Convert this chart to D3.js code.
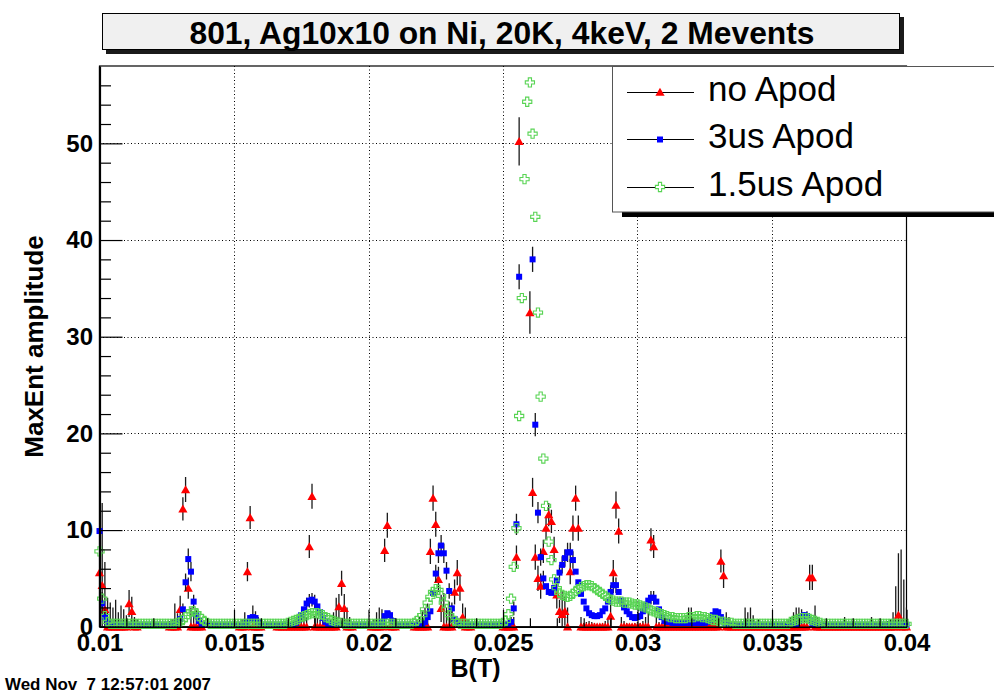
<!DOCTYPE html>
<html>
<head>
<meta charset="utf-8">
<script src="https://cdn.jsdelivr.net/npm/d3@7"></script>
<style>
  html, body { margin: 0; padding: 0; background: #fff; }
  svg { display: block; }
  text { font-family: "Liberation Sans", Arial, Helvetica, sans-serif; }
</style>
</head>
<body>
<svg id="chart" width="994" height="695"></svg>
<script>
// ---- data ---------------------------------------------------------------
const titleText = "801, Ag10x10 on Ni, 20K, 4keV, 2 Mevents";
const xTitle = "B(T)";
const yTitle = "MaxEnt amplitude";
const stampText = "Wed Nov  7 12:57:01 2007";
const seriesNames = ["no Apod", "3us Apod", "1.5us Apod"];

const xDomain = [0.01, 0.04];
const yDomain = [0, 58];
const xTicks = [0.01, 0.015, 0.02, 0.025, 0.03, 0.035, 0.04];
const xTickLabels = ["0.01", "0.015", "0.02", "0.025", "0.03", "0.035", "0.04"];
const xMinor = [0.011, 0.012, 0.013, 0.014, 0.016, 0.017, 0.018, 0.019,
                0.021, 0.022, 0.023, 0.024, 0.026, 0.027, 0.028, 0.029,
                0.031, 0.032, 0.033, 0.034, 0.036, 0.037, 0.038, 0.039];
const yTicks = [0, 10, 20, 30, 40, 50];
const yMinor = [2, 4, 6, 8, 12, 14, 16, 18, 22, 24, 26, 28, 32, 34, 36, 38,
                42, 44, 46, 48, 52, 54, 56];

// field bin centres (T)
const field = [
  0.0100,0.0101,0.0102,0.0103,0.0104,0.0105,0.0106,0.0107,0.0108,0.0109,
  0.0110,0.0111,0.0112,0.0113,0.0114,0.0115,0.0116,0.0117,0.0118,0.0119,
  0.0120,0.0121,0.0122,0.0123,0.0124,0.0125,0.0126,0.0127,0.0128,0.0129,
  0.0130,0.0131,0.0132,0.0133,0.0134,0.0135,0.0136,0.0137,0.0138,0.0139,
  0.0140,0.0141,0.0142,0.0143,0.0144,0.0145,0.0146,0.0147,0.0148,0.0149,
  0.0150,0.0151,0.0152,0.0153,0.0154,0.0155,0.0156,0.0157,0.0158,0.0159,
  0.0160,0.0161,0.0162,0.0163,0.0164,0.0165,0.0166,0.0167,0.0168,0.0169,
  0.0170,0.0171,0.0172,0.0173,0.0174,0.0175,0.0176,0.0177,0.0178,0.0179,
  0.0180,0.0181,0.0182,0.0183,0.0184,0.0185,0.0186,0.0187,0.0188,0.0189,
  0.0190,0.0191,0.0192,0.0193,0.0194,0.0195,0.0196,0.0197,0.0198,0.0199,
  0.0200,0.0201,0.0202,0.0203,0.0204,0.0205,0.0206,0.0207,0.0208,0.0209,
  0.0210,0.0211,0.0212,0.0213,0.0214,0.0215,0.0216,0.0217,0.0218,0.0219,
  0.0220,0.0221,0.0222,0.0223,0.0224,0.0225,0.0226,0.0227,0.0228,0.0229,
  0.0230,0.0231,0.0232,0.0233,0.0234,0.0235,0.0236,0.0237,0.0238,0.0239,
  0.0240,0.0241,0.0242,0.0243,0.0244,0.0245,0.0246,0.0247,0.0248,0.0249,
  0.0250,0.0251,0.0252,0.0253,0.0254,0.0255,0.0256,0.0257,0.0258,0.0259,
  0.0260,0.0261,0.0262,0.0263,0.0264,0.0265,0.0266,0.0267,0.0268,0.0269,
  0.0270,0.0271,0.0272,0.0273,0.0274,0.0275,0.0276,0.0277,0.0278,0.0279,
  0.0280,0.0281,0.0282,0.0283,0.0284,0.0285,0.0286,0.0287,0.0288,0.0289,
  0.0290,0.0291,0.0292,0.0293,0.0294,0.0295,0.0296,0.0297,0.0298,0.0299,
  0.0300,0.0301,0.0302,0.0303,0.0304,0.0305,0.0306,0.0307,0.0308,0.0309,
  0.0310,0.0311,0.0312,0.0313,0.0314,0.0315,0.0316,0.0317,0.0318,0.0319,
  0.0320,0.0321,0.0322,0.0323,0.0324,0.0325,0.0326,0.0327,0.0328,0.0329,
  0.0330,0.0331,0.0332,0.0333,0.0334,0.0335,0.0336,0.0337,0.0338,0.0339,
  0.0340,0.0341,0.0342,0.0343,0.0344,0.0345,0.0346,0.0347,0.0348,0.0349,
  0.0350,0.0351,0.0352,0.0353,0.0354,0.0355,0.0356,0.0357,0.0358,0.0359,
  0.0360,0.0361,0.0362,0.0363,0.0364,0.0365,0.0366,0.0367,0.0368,0.0369,
  0.0370,0.0371,0.0372,0.0373,0.0374,0.0375,0.0376,0.0377,0.0378,0.0379,
  0.0380,0.0381,0.0382,0.0383,0.0384,0.0385,0.0386,0.0387,0.0388,0.0389,
  0.0390,0.0391,0.0392,0.0393,0.0394,0.0395,0.0396,0.0397,0.0398,0.0399,
  0.0400
];

// "no Apod" amplitude per bin (null = empty bin, not drawn)
const noApod = [
  5.6, 4.3, 1.8, 0, 0, 0, 0, 0, 0, 0,
  0, 2.4, 1.6, 0, 0, null, null, null, null, null,
  null, null, null, null, null, null, 0, 0, 0, 0,
  1.8, 12.2, 14.2, 4.0, 0, 0, 0, 0, 0, null,
  null, null, null, null, null, null, null, null, null, null,
  null, null, 0, 0, 0, 5.7, 11.3, 0, 0, 0,
  0, null, null, null, null, null, 0, 0, 0, 0,
  0, 0, 0, 0, 0, 0, 0, 0, 8.3, 13.5,
  0, 0, 0, 0, 0, 0, 0, 0, 0, 2.1,
  4.5, 1.9, 0, 0, 0, null, null, null, null, null,
  null, 0, 0, 0, 0, 0, 7.9, 10.5, 0, 0,
  0, null, null, null, null, null, null, 0, 0, 0,
  0, 0, 0, 7.8, 13.3, 10.6, 4.9, 1.9, 0, 0,
  0, 0, 3.6, 5.6, 4.0, 1.0, 0, 0, 0, null,
  null, null, null, null, null, null, null, null, null, null,
  0, 0, 0, 0, 0, 7.2, 50.2, 68.0, 88.0, 71.0,
  32.5, 13.9, 7.2, 5.0, 4.2, 7.8, 10.2, 11.6, 10.9, 8.0,
  3.3, 1.6, 1.3, 1.6, 0, 5.7, 10.2, 13.3, 10.2, 0,
  0, 0, 0, 0, 0, 0, 0, 0, 0, 0,
  1.1, 5.6, 12.6, 9.9, 0, 0, 0, 0, 0, 0,
  0, 0, 0, 0, 0, 9.0, 8.3, 0, 0, 0,
  0, 0, 0, 0, 0, 0, 0, 0, 0, 0,
  0, 0, 0, 0, 0, 0, 0, 0, 0, 0,
  0, 6.8, 5.3, 0, 0, 0, 0, 0, 0, 0,
  0, 0, 0, 0, 0, 0, 0, 0, 0, 0,
  0, 0, 0, 0, 0, 0, 0, 0, 0, 0,
  0, 0, 0, 0, 5.1, 5.1, 0, 0, 0, 0,
  0, 0, 0, 0, 0, 0, 0, 0, 0, 0,
  0, 0, 0, 0, 0, 0, 0, 0, 0, 0,
  0, 0, 0, 0, 0, 0, 0, 1.2, 0, 0,
  0
];

// "no Apod" error per bin
const noApodErr = [
  1.5, 8.5, 4.9, 3.0, 2.5, 2.0, 2.8, 1.5, 2.2, 1.8,
  1.2, 1.4, 1.5, 1.0, 0.8, 0, 0, 0, 0, 0,
  0, 0, 0, 0, 0, 0, 0.6, 0.8, 2.4, 1.4,
  1.4, 1.2, 1.3, 1.1, 2.0, 1.5, 1.0, 0.6, 0.4, 0,
  0, 0, 0, 0, 0, 0, 0, 0, 0, 0,
  0, 0, 0.5, 0.8, 1.5, 1.0, 1.2, 2.2, 1.6, 1.0,
  0.5, 0, 0, 0, 0, 0, 0.3, 0.5, 0.4, 0.6,
  0.5, 0.4, 0.6, 0.8, 1.0, 1.2, 1.5, 1.0, 1.2, 1.3,
  1.1, 0.9, 0.7, 0.6, 0.5, 0.6, 0.8, 1.5, 3.0, 1.3,
  1.3, 1.5, 2.0, 1.0, 0.5, 0, 0, 0, 0, 0,
  0, 0.5, 0.8, 1.5, 2.0, 1.8, 1.2, 1.3, 1.6, 1.0,
  0.5, 0, 0, 0, 0, 0, 0, 0.5, 0.8, 1.0,
  1.6, 2.0, 2.4, 1.3, 1.3, 1.3, 1.3, 1.4, 3.5, 2.0,
  2.6, 2.2, 1.3, 1.3, 1.3, 1.4, 2.0, 0.8, 0.5, 0,
  0, 0, 0, 0, 0, 0, 0, 0, 0, 0,
  0.3, 0.5, 0.8, 1.0, 1.0, 1.2, 2.5, 4.0, 4.0, 4.0,
  2.2, 1.5, 1.3, 1.3, 1.3, 1.2, 1.2, 1.2, 1.2, 1.3,
  1.4, 1.2, 2.4, 1.5, 2.0, 1.3, 1.3, 1.3, 1.3, 1.0,
  0.4, 0.5, 0.6, 0.5, 0.4, 0.3, 0.3, 0.4, 0.6, 0.8,
  1.2, 1.3, 1.4, 1.3, 1.0, 0.6, 0.4, 0.3, 0.3, 0.4,
  0.5, 0.4, 0.6, 1.0, 1.5, 1.2, 1.2, 1.0, 0.5, 0.3,
  0.3, 0.2, 0.3, 0.4, 0.3, 0.2, 0.3, 0.5, 1.0, 2.0,
  2.0, 0.8, 0.4, 0.3, 0.3, 0.4, 0.6, 0.8, 1.0, 1.5,
  1.2, 1.2, 1.3, 1.5, 1.0, 0.5, 0.3, 0.2, 0.3, 0.5,
  2.0, 1.5, 2.0, 1.2, 0.5, 0.8, 0.4, 0.3, 0.2, 0.3,
  0.3, 0.2, 0.3, 0.4, 0.3, 0.5, 0.8, 1.0, 1.5, 2.0,
  2.0, 1.8, 1.5, 1.6, 1.3, 1.3, 2.2, 1.0, 0.5, 0.3,
  0.2, 0.3, 0.2, 0.3, 0.4, 0.3, 0.5, 1.0, 0.4, 0.2,
  0.3, 0.2, 0.3, 0.2, 0.3, 0.4, 0.3, 1.0, 0.3, 0.2,
  0.3, 0.4, 0.5, 0.6, 0.8, 1.5, 4.2, 6.4, 8.0, 4.9,
  2.0
];

// "3us Apod" amplitude per bin
const apod3 = [
  9.9, 2.4, 1.0, 0.4, 0.2, 0.2, 0.2, 0.2, 0.2, 0.2,
  0.2, 0.2, 0.2, 0.2, 0.2, 0.2, 0.2, 0.2, 0.2, 0.2,
  0.2, 0.2, 0.2, 0.2, 0.2, 0.2, 0.2, 0.2, 0.2, 0.4,
  0.8, 1.8, 4.6, 7.0, 5.7, 2.6, 1.2, 0.6, 0.3, 0.2,
  0.2, 0.2, 0.2, 0.2, 0.2, 0.2, 0.2, 0.2, 0.2, 0.2,
  0.2, 0.2, 0.2, 0.2, 0.2, 0.5, 0.9, 1.0, 0.9, 0.5,
  0.2, 0.2, 0.2, 0.2, 0.2, 0.2, 0.2, 0.2, 0.2, 0.2,
  0.2, 0.2, 0.2, 0.4, 0.7, 1.2, 1.8, 2.4, 2.7, 2.8,
  2.6, 2.1, 1.5, 0.9, 0.5, 0.3, 0.2, 0.2, 0.2, 0.2,
  0.2, 0.2, 0.2, 0.2, 0.2, 0.2, 0.2, 0.2, 0.2, 0.2,
  0.2, 0.2, 0.2, 0.2, 0.2, 0.5, 1.1, 1.4, 1.2, 0.6,
  0.2, 0.2, 0.2, 0.2, 0.2, 0.2, 0.2, 0.2, 0.2, 0.2,
  0.2, 0.5, 1.0, 1.6, 3.5, 5.5, 7.6, 8.4, 7.6, 5.8,
  3.7, 1.9, 0.8, 0.4, 0.2, 0.2, 0.2, 0.2, 0.2, 0.2,
  0.2, 0.2, 0.2, 0.2, 0.2, 0.2, 0.2, 0.2, 0.2, 0.2,
  0.2, 0.2, 0.3, 0.5, 1.9, 10.6, 36.2, 72.0, 96.0, 83.0,
  61.0, 38.0, 20.9, 11.8, 7.2, 5.0, 4.2, 3.6, 3.5, 4.0,
  4.8, 5.6, 6.4, 7.1, 7.7, 7.7, 6.9, 5.7, 4.6, 3.4,
  2.6, 1.9, 1.4, 1.2, 1.1, 1.1, 1.2, 1.6, 1.9, 2.6,
  3.6, 4.3, 4.3, 3.6, 2.7, 2.0, 1.6, 1.3, 1.0, 0.9,
  1.0, 1.1, 1.6, 2.2, 2.7, 3.0, 3.0, 2.6, 1.8, 1.0,
  0.6, 0.5, 0.5, 0.4, 0.4, 0.4, 0.4, 0.4, 0.4, 0.4,
  0.4, 0.4, 0.4, 0.4, 0.4, 0.4, 0.5, 0.7, 1.2, 1.6,
  1.5, 1.0, 0.5, 0.3, 0.2, 0.2, 0.2, 0.2, 0.2, 0.2,
  0.2, 0.2, 0.2, 0.2, 0.2, 0.2, 0.2, 0.2, 0.2, 0.2,
  0.2, 0.2, 0.2, 0.2, 0.2, 0.2, 0.2, 0.2, 0.2, 0.2,
  0.6, 1.0, 1.2, 1.1, 0.7, 0.4, 0.2, 0.2, 0.2, 0.2,
  0.2, 0.2, 0.2, 0.2, 0.2, 0.2, 0.2, 0.2, 0.2, 0.2,
  0.2, 0.2, 0.2, 0.2, 0.2, 0.2, 0.2, 0.2, 0.2, 0.2,
  0.2, 0.2, 0.2, 0.2, 0.2, 0.2, 0.2, 0.2, 0.2, 0.2,
  0.2
];

// "3us Apod" errors: [bin index, error]
const apod3Err = [
  [0, 3.0], [1, 1.2], [2, 0.8], [31, 0.6], [32, 0.9], [33, 1.1], [34, 1.0],
  [35, 0.7], [36, 0.5], [77, 0.6], [78, 0.7], [79, 0.7], [80, 0.7],
  [125, 0.9], [126, 1.0], [127, 1.1], [128, 1.0], [129, 0.9], [130, 0.8],
  [131, 0.6], [154, 0.7], [155, 1.1], [156, 1.3], [161, 1.3], [162, 1.2],
  [163, 1.1], [164, 0.9], [165, 0.8], [171, 0.8], [172, 0.9], [173, 0.9],
  [174, 1.0], [175, 1.0], [176, 0.9], [190, 0.7], [191, 0.8], [192, 0.8],
  [205, 0.7], [206, 0.7]
];

// "1.5us Apod" amplitude per bin
const apod15 = [
  7.8, 2.9, 1.1, 0.5, 0.3, 0.3, 0.3, 0.3, 0.3, 0.3,
  0.3, 0.3, 0.3, 0.3, 0.3, 0.3, 0.3, 0.3, 0.3, 0.3,
  0.3, 0.3, 0.3, 0.3, 0.3, 0.3, 0.3, 0.3, 0.3, 0.4,
  0.5, 0.7, 1.0, 1.3, 1.6, 1.6, 1.4, 1.1, 0.8, 0.6,
  0.4, 0.3, 0.3, 0.3, 0.3, 0.3, 0.3, 0.3, 0.3, 0.3,
  0.3, 0.3, 0.3, 0.3, 0.3, 0.3, 0.3, 0.3, 0.3, 0.3,
  0.3, 0.3, 0.3, 0.3, 0.3, 0.3, 0.3, 0.3, 0.3, 0.3,
  0.4, 0.5, 0.6, 0.7, 0.8, 1.0, 1.1, 1.2, 1.3, 1.4,
  1.4, 1.4, 1.3, 1.2, 1.0, 0.9, 0.7, 0.6, 0.5, 0.4,
  0.4, 0.3, 0.3, 0.3, 0.3, 0.3, 0.3, 0.3, 0.3, 0.3,
  0.3, 0.3, 0.3, 0.3, 0.3, 0.3, 0.3, 0.3, 0.3, 0.3,
  0.3, 0.3, 0.3, 0.3, 0.3, 0.3, 0.3, 0.4, 0.6, 0.9,
  1.2, 1.8, 2.5, 3.1, 3.6, 3.9, 3.8, 3.2, 2.5, 1.8,
  1.2, 0.9, 0.6, 0.4, 0.3, 0.3, 0.3, 0.3, 0.3, 0.3,
  0.3, 0.3, 0.3, 0.3, 0.3, 0.3, 0.3, 0.3, 0.3, 0.3,
  0.4, 0.6, 1.3, 2.9, 6.2, 10.2, 21.8, 34.0, 46.3, 54.3,
  56.3, 51.0, 42.4, 32.5, 23.8, 17.4, 12.5, 8.8, 6.9, 4.9,
  4.0, 3.5, 3.3, 3.2, 3.1, 3.2, 3.4, 3.7, 3.9, 4.1,
  4.2, 4.3, 4.3, 4.2, 4.0, 3.8, 3.6, 3.4, 3.2, 3.0,
  2.8, 2.7, 2.6, 2.6, 2.6, 2.5, 2.5, 2.5, 2.4, 2.3,
  2.3, 2.2, 2.1, 2.0, 1.9, 1.7, 1.6, 1.5, 1.4, 1.3,
  1.2, 1.1, 1.0, 1.0, 0.9, 0.9, 0.9, 0.9, 0.9, 1.0,
  1.0, 1.0, 1.1, 1.1, 1.0, 1.0, 0.9, 0.8, 0.7, 0.7,
  0.6, 0.5, 0.5, 0.4, 0.4, 0.4, 0.3, 0.3, 0.3, 0.3,
  0.3, 0.3, 0.3, 0.3, 0.3, 0.3, 0.3, 0.3, 0.3, 0.3,
  0.3, 0.3, 0.3, 0.3, 0.3, 0.3, 0.3, 0.5, 0.6, 0.7,
  0.8, 0.9, 0.9, 0.9, 0.8, 0.7, 0.6, 0.5, 0.4, 0.3,
  0.3, 0.3, 0.3, 0.3, 0.3, 0.3, 0.3, 0.3, 0.3, 0.3,
  0.3, 0.3, 0.3, 0.3, 0.3, 0.3, 0.3, 0.3, 0.3, 0.3,
  0.3, 0.3, 0.3, 0.3, 0.3, 0.3, 0.3, 0.3, 0.3, 0.3,
  0.3
];

// ---- layout -------------------------------------------------------------
const frame = { left: 99.5, right: 906.5, top: 66, bottom: 626.75 };
const colors = { noApod: "#ff0000", apod3: "#0000ff", apod15: "#59d454" };
const fontBold = "bold";

const svg = d3.select("#chart");
svg.append("rect").attr("width", 994).attr("height", 695).attr("fill", "#fff");

const x = d3.scaleLinear().domain(xDomain).range([frame.left, frame.right]);
const y = d3.scaleLinear().domain(yDomain).range([frame.bottom, frame.top]);

svg.append("defs").append("clipPath").attr("id", "frameClip")
  .append("rect")
  .attr("x", frame.left).attr("y", frame.top)
  .attr("width", frame.right - frame.left)
  .attr("height", frame.bottom - frame.top);

// marker shapes
const triPath = "M0,-4.3L4.6,3.7L-4.6,3.7Z";
const crossPath = "M-1.6,-4.6H1.6V-1.6H4.6V1.6H1.6V4.6H-1.6V1.6H-4.6V-1.6H-1.6Z";

// ---- title box ----------------------------------------------------------
svg.append("rect").attr("x", 106).attr("y", 17).attr("width", 798).attr("height", 37)
  .attr("fill", "#1a1a1a");
svg.append("rect").attr("x", 102.5).attr("y", 13.5).attr("width", 797).attr("height", 36)
  .attr("fill", "#f0f0f0").attr("stroke", "#000").attr("stroke-width", 1);
svg.append("text").attr("x", 502).attr("y", 43.5)
  .attr("text-anchor", "middle")
  .attr("font-size", 31).attr("font-weight", fontBold)
  .attr("textLength", 625).attr("lengthAdjust", "spacingAndGlyphs")
  .text(titleText);

// ---- frame and grid -----------------------------------------------------
svg.append("rect")
  .attr("x", frame.left).attr("y", frame.top)
  .attr("width", frame.right - frame.left).attr("height", frame.bottom - frame.top)
  .attr("fill", "none").attr("stroke", "#000").attr("stroke-width", 1.2);

const grid = svg.append("g").attr("stroke", "#000").attr("stroke-width", 1)
  .attr("stroke-dasharray", "1,2.5");
grid.selectAll("line.gx").data(xTicks.slice(1, -1)).join("line")
  .attr("x1", d => Math.round(x(d)) + 0.5).attr("x2", d => Math.round(x(d)) + 0.5)
  .attr("y1", frame.top).attr("y2", frame.bottom);
grid.selectAll("line.gy").data(yTicks.slice(1)).join("line")
  .attr("x1", frame.left).attr("x2", frame.right)
  .attr("y1", d => Math.round(y(d)) + 0.5).attr("y2", d => Math.round(y(d)) + 0.5);

// ---- data ---------------------------------------------------------------
const plot = svg.append("g");

function errorBars(points, color) {
  plot.append("g").attr("clip-path", "url(#frameClip)")
    .selectAll("line").data(points.filter(d => d.e > 0)).join("line")
    .attr("x1", d => x(d.b)).attr("x2", d => x(d.b))
    .attr("y1", d => y(d.v - d.e)).attr("y2", d => y(d.v + d.e))
    .attr("stroke", color).attr("stroke-width", 1.3);
}

// no Apod: red triangles with error bars
const redPts = field.map((b, i) => ({ b, v: noApod[i], e: noApodErr[i] }))
  .filter(d => d.v !== null);
errorBars(redPts, "#1a1a1a");
plot.append("g").selectAll("path").data(redPts.filter(d => d.v <= yDomain[1])).join("path")
  .attr("d", triPath)
  .attr("transform", d => `translate(${x(d.b)},${y(d.v)})`)
  .attr("fill", colors.noApod);

// 3us Apod: blue squares
const blueErr = new Map(apod3Err);
const bluePts = field.map((b, i) => ({ b, v: apod3[i], e: blueErr.get(i) || 0 }));
errorBars(bluePts, "#1a1a1a");
plot.append("g").selectAll("rect").data(bluePts.filter(d => d.v <= yDomain[1])).join("rect")
  .attr("x", d => x(d.b) - 3).attr("y", d => y(d.v) - 3)
  .attr("width", 6).attr("height", 6)
  .attr("fill", colors.apod3);

// 1.5us Apod: open green crosses
const greenPts = field.map((b, i) => ({ b, v: apod15[i] }));
plot.append("g").selectAll("path").data(greenPts.filter(d => d.v <= yDomain[1])).join("path")
  .attr("d", crossPath)
  .attr("transform", d => `translate(${x(d.b)},${y(d.v)})`)
  .attr("fill", "none").attr("stroke", colors.apod15).attr("stroke-width", 1.1);

// ---- axes ---------------------------------------------------------------
const yAxis = svg.append("g").attr("transform", `translate(${frame.left},0)`)
  .call(d3.axisLeft(y).tickValues(yTicks).tickSizeInner(-23).tickSizeOuter(0)
    .tickPadding(6.5).tickFormat(d3.format("d")));
svg.append("g").attr("transform", `translate(${frame.left},0)`)
  .call(d3.axisLeft(y).tickValues(yMinor).tickSize(-11.5).tickFormat(""))
  .call(g => g.select(".domain").remove());

const xAxis = svg.append("g").attr("transform", `translate(0,${frame.bottom})`)
  .call(d3.axisBottom(x).tickValues(xTicks).tickSizeInner(-17).tickSizeOuter(0)
    .tickPadding(7).tickFormat((d, i) => xTickLabels[i]));
svg.append("g").attr("transform", `translate(0,${frame.bottom})`)
  .call(d3.axisBottom(x).tickValues(xMinor).tickSize(-8.5).tickFormat(""))
  .call(g => g.select(".domain").remove());

svg.selectAll(".tick line").attr("stroke", "#000").attr("stroke-width", 1.2);
yAxis.select(".domain").attr("stroke", "#000").attr("stroke-width", 2.2);
xAxis.select(".domain").attr("stroke", "#000").attr("stroke-width", 1.6);
svg.selectAll(".tick text")
  .attr("font-family", "'Liberation Sans', Arial, Helvetica, sans-serif")
  .attr("font-size", 24).attr("font-weight", fontBold).attr("fill", "#000");

// axis titles
svg.append("text").attr("x", 475.5).attr("y", 677)
  .attr("text-anchor", "middle").attr("font-size", 25).attr("font-weight", fontBold)
  .text(xTitle);
svg.append("text")
  .attr("transform", `translate(43,346.5) rotate(-90)`)
  .attr("text-anchor", "middle").attr("font-size", 26).attr("font-weight", fontBold)
  .text(yTitle);

// ---- legend -------------------------------------------------------------
const legend = svg.append("g");
legend.append("rect").attr("x", 622).attr("y", 212).attr("width", 380).attr("height", 5)
  .attr("fill", "#000");
legend.append("rect").attr("x", 612.5).attr("y", 66.5).attr("width", 400).attr("height", 145.5)
  .attr("fill", "#fff").attr("stroke", "#555").attr("stroke-width", 1);

const rows = [
  { name: seriesNames[0], cy: 92, kind: "tri" },
  { name: seriesNames[1], cy: 139, kind: "sq" },
  { name: seriesNames[2], cy: 187, kind: "cross" }
];
rows.forEach(r => {
  legend.append("line").attr("x1", 627).attr("x2", 694)
    .attr("y1", r.cy + 0.5).attr("y2", r.cy + 0.5)
    .attr("stroke", "#000").attr("stroke-width", 1);
  if (r.kind === "tri") {
    legend.append("path").attr("d", triPath).attr("transform", `translate(660,${r.cy})`)
      .attr("fill", colors.noApod);
  } else if (r.kind === "sq") {
    legend.append("rect").attr("x", 657).attr("y", r.cy - 2.5).attr("width", 6).attr("height", 6)
      .attr("fill", colors.apod3);
  } else {
    legend.append("path").attr("d", crossPath).attr("transform", `translate(660,${r.cy})`)
      .attr("fill", "#fff").attr("stroke", colors.apod15).attr("stroke-width", 1.1);
  }
  legend.append("text").attr("x", 708).attr("y", r.cy + 9)
    .attr("font-size", 35).text(r.name);
});

// ---- time stamp ---------------------------------------------------------
svg.append("text").attr("x", 5).attr("y", 690)
  .attr("font-size", 17).attr("font-weight", fontBold)
  .attr("textLength", 206).attr("lengthAdjust", "spacingAndGlyphs")
  .style("white-space", "pre")
  .text(stampText);
</script>
</body>
</html>
